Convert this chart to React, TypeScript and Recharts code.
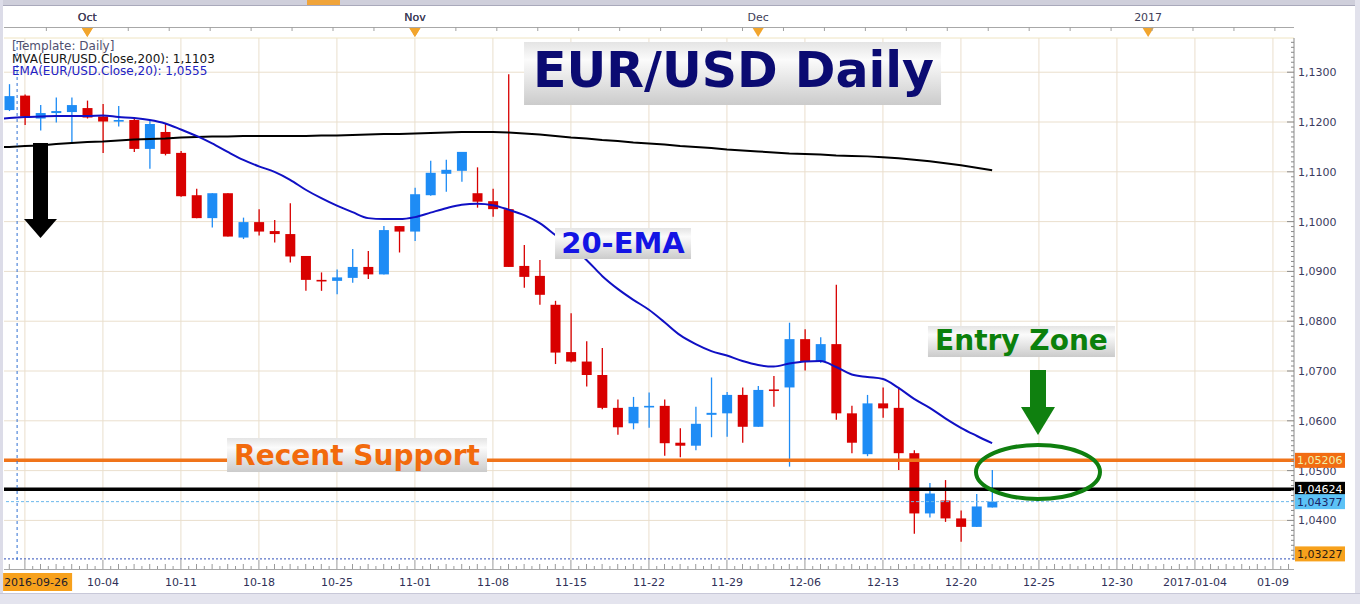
import React from 'react';
import {
  ComposedChart,
  Bar,
  Line,
  XAxis,
  YAxis,
  CartesianGrid,
  ReferenceLine,
  ReferenceDot,
} from 'recharts';

// ---------- DATA ----------
const FIRST_INDEX = -1; // the first row (2016-09-23) lies just left of the visible window

const dates = [
  '2016-09-23',
  '2016-09-26', '2016-09-27', '2016-09-28', '2016-09-29', '2016-09-30',
  '2016-10-03', '2016-10-04', '2016-10-05', '2016-10-06', '2016-10-07',
  '2016-10-10', '2016-10-11', '2016-10-12', '2016-10-13', '2016-10-14',
  '2016-10-17', '2016-10-18', '2016-10-19', '2016-10-20', '2016-10-21',
  '2016-10-24', '2016-10-25', '2016-10-26', '2016-10-27', '2016-10-28',
  '2016-10-31', '2016-11-01', '2016-11-02', '2016-11-03', '2016-11-04',
  '2016-11-07', '2016-11-08', '2016-11-09', '2016-11-10', '2016-11-11',
  '2016-11-14', '2016-11-15', '2016-11-16', '2016-11-17', '2016-11-18',
  '2016-11-21', '2016-11-22', '2016-11-23', '2016-11-24', '2016-11-25',
  '2016-11-28', '2016-11-29', '2016-11-30', '2016-12-01', '2016-12-02',
  '2016-12-05', '2016-12-06', '2016-12-07', '2016-12-08', '2016-12-09',
  '2016-12-12', '2016-12-13', '2016-12-14', '2016-12-15', '2016-12-16',
  '2016-12-19', '2016-12-20', '2016-12-21', '2016-12-22',
];

const opens: (number | null)[] = [null,
  1.1224, 1.1253, 1.1207, 1.1218, 1.1220,
  1.1228, 1.1211, 1.1201, 1.1204, 1.1146,
  1.1180, 1.1138, 1.1053, 1.1007, 1.1057,
  1.0968, 1.0999, 1.0981, 1.0975, 1.0931,
  1.0883, 1.0881, 1.0887, 1.0909, 1.0894,
  1.0991, 1.0980, 1.1053, 1.1096, 1.1102,
  1.1057, 1.1041, 1.1025, 1.0911, 1.0891,
  1.0833, 1.0738, 1.0719, 1.0692, 1.0626,
  1.0595, 1.0627, 1.0630, 1.0556, 1.0550,
  1.0612, 1.0615, 1.0652, 1.0588, 1.0663,
  1.0667, 1.0764, 1.0720, 1.0754, 1.0615,
  1.0533, 1.0635, 1.0626, 1.0535, 1.0414,
  1.0440, 1.0404, 1.0387, 1.0426,
];

const highs: (number | null)[] = [null,
  1.1276, 1.1255, 1.1234, 1.1249, 1.1249,
  1.1243, 1.1236, 1.1232, 1.1209, 1.1204,
  1.1197, 1.1142, 1.1066, 1.1057, 1.1057,
  1.1008, 1.1025, 1.1003, 1.1037, 1.0931,
  1.0898, 1.0904, 1.0945, 1.0941, 1.0991,
  1.0991, 1.1068, 1.1122, 1.1124, 1.1140,
  1.1109, 1.1066, 1.1296, 1.0953, 1.0923,
  1.0841, 1.0816, 1.0760, 1.0746, 1.0643,
  1.0648, 1.0657, 1.0643, 1.0585, 1.0628,
  1.0687, 1.0658, 1.0667, 1.0670, 1.0690,
  1.0797, 1.0784, 1.0768, 1.0873, 1.0630,
  1.0652, 1.0667, 1.0667, 1.0541, 1.0475,
  1.0481, 1.0420, 1.0453, 1.0501,
];

const lows: (number | null)[] = [null,
  1.1222, 1.1194, 1.1183, 1.1199, 1.1156,
  1.1207, 1.1138, 1.1191, 1.1140, 1.1106,
  1.1133, 1.1050, 1.1007, 1.0988, 1.0970,
  1.0965, 1.0972, 1.0958, 1.0918, 1.0861,
  1.0861, 1.0854, 1.0877, 1.0885, 1.0894,
  1.0938, 1.0961, 1.1052, 1.1060, 1.1080,
  1.1028, 1.1010, 1.0909, 1.0867, 1.0833,
  1.0714, 1.0717, 1.0669, 1.0623, 1.0572,
  1.0583, 1.0586, 1.0530, 1.0527, 1.0541,
  1.0567, 1.0568, 1.0556, 1.0588, 1.0628,
  1.0508, 1.0701, 1.0716, 1.0602, 1.0535,
  1.0529, 1.0606, 1.0501, 1.0373, 1.0406,
  1.0397, 1.0357, 1.0387, 1.0426,
];

const closes: (number | null)[] = [null,
  1.1252, 1.1211, 1.1218, 1.1222, 1.1234,
  1.1209, 1.1201, 1.1204, 1.1146, 1.1196,
  1.1136, 1.1051, 1.1007, 1.1057, 1.0970,
  1.0999, 1.0980, 1.0975, 1.0930, 1.0883,
  1.0882, 1.0888, 1.0909, 1.0894, 1.0983,
  1.0980, 1.1055, 1.1098, 1.1104, 1.1140,
  1.1040, 1.1025, 1.0909, 1.0889, 1.0853,
  1.0737, 1.0719, 1.0692, 1.0626, 1.0587,
  1.0628, 1.0630, 1.0555, 1.0550, 1.0594,
  1.0616, 1.0652, 1.0588, 1.0662, 1.0661,
  1.0764, 1.0719, 1.0754, 1.0615, 1.0556,
  1.0635, 1.0625, 1.0535, 1.0414, 1.0454,
  1.0404, 1.0387, 1.0428, 1.04377,
];

const ema20 = [1.1205,
  1.1208, 1.1210, 1.1211, 1.1212, 1.1212,
  1.1212, 1.1213, 1.1210, 1.1208, 1.1204,
  1.1197, 1.1185, 1.1172, 1.1157, 1.1140,
  1.1124, 1.1111, 1.1100, 1.1084, 1.1064,
  1.1047, 1.1032, 1.1019, 1.1007, 1.1005,
  1.1005, 1.1009, 1.1018, 1.1027, 1.1034,
  1.1036, 1.1033, 1.1024, 1.1013, 1.0997,
  1.0973, 1.0949, 1.0923, 1.0891, 1.0865,
  1.0843, 1.0823, 1.0798, 1.0772, 1.0754,
  1.0740, 1.0731, 1.0720, 1.0712, 1.0709,
  1.0715, 1.0719, 1.0720, 1.0708, 1.0693,
  1.0688, 1.0684, 1.0666, 1.0644, 1.0626,
  1.0605, 1.0586, 1.0570, 1.0555,
];

const sma200 = [1.1149,
  1.1150, 1.1152, 1.1153, 1.1156, 1.1158,
  1.1160, 1.1161, 1.1163, 1.1165, 1.1166,
  1.1167, 1.1169, 1.1170, 1.1171, 1.1171,
  1.1172, 1.1172, 1.1172, 1.1172, 1.1172,
  1.1173, 1.1173, 1.1174, 1.1175, 1.1176,
  1.1176, 1.1177, 1.1178, 1.1179, 1.1180,
  1.1180, 1.1180, 1.1179, 1.1177, 1.1175,
  1.1172, 1.1169, 1.1167, 1.1164, 1.1162,
  1.1159, 1.1157, 1.1155, 1.1152, 1.1150,
  1.1148, 1.1145, 1.1143, 1.1141, 1.1139,
  1.1137, 1.1136, 1.1135, 1.1133, 1.1132,
  1.1131, 1.1129, 1.1127, 1.1124, 1.1121,
  1.1117, 1.1113, 1.1108, 1.1103,
];

// horizontal levels
const recentSupport = 1.05206;
const blackLevel = 1.04624;
const lastPrice = 1.04377;
const lowMarker = 1.03227;

// axes
const X_DOMAIN: [number, number] = [-0.34, 82.35];
const Y_DOMAIN: [number, number] = [1.03205, 1.13687];
const priceMajorTicks = [1.04, 1.05, 1.06, 1.07, 1.08, 1.09, 1.10, 1.11, 1.12, 1.13];
const gridDayValues = [1, 6, 11, 16, 21, 26, 31, 36, 41, 46, 51, 56, 61, 66, 71, 76, 81];
const weekTickValues = [6, 11, 16, 21, 26, 31, 36, 41, 46, 51, 56, 61, 66, 71, 76, 81];
const weekTickLabels = ['10-04', '10-11', '10-18', '10-25', '11-01', '11-08', '11-15', '11-22',
  '11-29', '12-06', '12-13', '12-20', '12-25', '12-30', '2017-01-04', '01-09'];
const monthTickValues = [5, 26, 48, 73];
const monthTickLabels = ['Oct', 'Nov', 'Dec', '2017'];
const cursorIndex = 0.5;
const cursorLabel = '2016-09-26';

// ---------- STYLE ----------
const FONT = 'DejaVu Sans, Verdana, sans-serif';
const UP = '#1e8cf5';
const DOWN = '#d80000';
const fmt4 = (v: number) => v.toFixed(4).replace('.', ',');
const fmt5 = (v: number) => v.toFixed(5).replace('.', ',');

// price tags drawn on the right axis (drawn last, on top of the regular labels)
const priceTags = [
  { value: lowMarker, bg: '#f7a11c', fg: '#2a1a10', dy: -5 },
  { value: recentSupport, bg: '#f26c12', fg: '#eef0a8', dy: 0 },
  { value: blackLevel, bg: '#000000', fg: '#ffffff', dy: 0 },
  { value: lastPrice, bg: '#5cc2f6', fg: '#1a2466', dy: 0 },
];

const minorPriceTicks: number[] = [];
for (let k = 1033; k <= 1136; k++) minorPriceTicks.push(k / 1000);
const minorDayTicks: number[] = [];
for (let k = 0; k <= 164; k++) {
  const v = k / 2;
  if (!gridDayValues.includes(v) && v !== cursorIndex) minorDayTicks.push(v);
}
const minorMonthTicks: number[] = [];
for (let k = -1; k <= 29; k++) {
  const v = 5 + k * 2.625;
  if (v > X_DOMAIN[0] && v < X_DOMAIN[1]) minorMonthTicks.push(v);
}

const Candle = (props: any) => {
  const { x, y, width, height, payload } = props;
  if (!payload || payload.open == null || payload.high == null) return null;
  const top = Math.min(y, y + height);
  const bot = Math.max(y, y + height);
  const range = payload.high - payload.low;
  const pix = (v: number) => (range === 0 ? top : top + ((payload.high - v) / range) * (bot - top));
  const color = payload.close >= payload.open ? UP : DOWN;
  const cx = x + width / 2;
  const o = pix(payload.open);
  const c = pix(payload.close);
  const bt = Math.min(o, c);
  const bh = Math.max(Math.abs(o - c), 1.6);
  return (
    <g>
      <line x1={cx} x2={cx} y1={top} y2={bot} stroke={color} strokeWidth={1.3} />
      <rect x={cx - 5} y={bt} width={10} height={bh} fill={color} />
    </g>
  );
};

const PriceTick = (p: any) => {
  const v = p.payload.value;
  const tag = priceTags.find((t) => t.value === v);
  if (tag) {
    const yc = p.y + tag.dy;
    return (
      <g>
        <rect x={p.x + 1} y={yc - 7.5} width={50} height={15} fill={tag.bg} />
        <text x={p.x + 3} y={yc + 4} fontSize={11} fontFamily={FONT} fill={tag.fg}>
          {fmt5(v)}
        </text>
      </g>
    );
  }
  const major = Math.abs(v * 100 - Math.round(v * 100)) < 1e-6;
  return (
    <g>
      <line x1={p.x - (major ? 7 : 3)} x2={p.x} y1={p.y} y2={p.y} stroke="#8a8a8a" />
      {major && (
        <text x={p.x + 4} y={p.y + 4} fontSize={11} fontFamily={FONT} fill="#3a3a5e">
          {fmt4(v)}
        </text>
      )}
    </g>
  );
};

const DayTick = (p: any) => {
  const v = p.payload.value;
  const base = p.y + 9;
  if (v === cursorIndex) {
    const y0 = p.y + 13;
    return (
      <g>
        <rect x={p.x - 14} y={y0} width={69} height={18} fill="#f7a11c" />
        <text x={p.x - 13} y={y0 + 13} fontSize={11} fontFamily={FONT} fill="#1c1c2c">
          {cursorLabel}
        </text>
      </g>
    );
  }
  const idx = weekTickValues.indexOf(v);
  if (idx >= 0) {
    return (
      <g>
        <line x1={p.x} x2={p.x} y1={p.y} y2={base} stroke="#9a9a9a" />
        <text x={p.x} y={p.y + 26} textAnchor="middle" fontSize={11} fontFamily={FONT} fill="#303058">
          {weekTickLabels[idx]}
        </text>
      </g>
    );
  }
  if (gridDayValues.includes(v)) {
    return <line x1={p.x} x2={p.x} y1={p.y} y2={base} stroke="#9a9a9a" />;
  }
  const h = Number.isInteger(v) ? 5 : 3;
  return <line x1={p.x} x2={p.x} y1={base - h} y2={base} stroke="#9a9a9a" />;
};

const MonthTick = (p: any) => {
  const v = p.payload.value;
  const idx = monthTickValues.indexOf(v);
  if (idx >= 0) {
    return (
      <g>
        <text x={p.x} y={p.y - 17} textAnchor="middle" fontSize={11} fontFamily={FONT} fill="#404058">
          {monthTickLabels[idx]}
        </text>
        <polygon
          points={`${p.x - 5.5},${p.y - 10} ${p.x + 5.5},${p.y - 10} ${p.x},${p.y - 1}`}
          fill="#f2a52c"
        />
      </g>
    );
  }
  return <line x1={p.x} x2={p.x} y1={p.y - 11} y2={p.y - 7} stroke="#a0a0a0" />;
};

let gradCount = 0;
const textBox = (text: string, color: string, w: number, h: number, fs: number, baseDy: number, dx = 0) => (p: any) => {
  const id = `boxgrad${gradCount++}`;
  return (
    <g>
      <defs>
        <linearGradient id={id} x1="0" y1="0" x2="0" y2="1">
          <stop offset="0%" stopColor="#e4e4e4" />
          <stop offset="28%" stopColor="#fbfbfb" />
          <stop offset="100%" stopColor="#cbcbcb" />
        </linearGradient>
      </defs>
      <rect x={p.cx - w / 2} y={p.cy - h / 2} width={w} height={h} fill={`url(#${id})`} />
      <text
        x={p.cx + dx}
        y={p.cy + baseDy}
        textAnchor="middle"
        fontSize={fs}
        fontWeight="bold"
        fontFamily={FONT}
        fill={color}
      >
        {text}
      </text>
    </g>
  );
};

const downArrow = (color: string, shaftHalf: number, shaftTop: number, headHalf: number, headH: number) => (p: any) => {
  const { cx, cy } = p;
  return (
    <g>
      <rect x={cx - shaftHalf} y={cy - shaftTop} width={shaftHalf * 2} height={shaftTop - headH + 1} fill={color} />
      <polygon points={`${cx - headHalf},${cy - headH} ${cx + headHalf},${cy - headH} ${cx},${cy}`} fill={color} />
    </g>
  );
};

const ellipseShape = (p: any) => (
  <ellipse cx={p.cx} cy={p.cy} rx={62} ry={27} fill="none" stroke="#0f7f0f" strokeWidth={4} />
);

export default function App() {
  const data = dates.map((d, k) => ({
    i: k + FIRST_INDEX,
    date: d,
    open: opens[k],
    high: highs[k],
    low: lows[k],
    close: closes[k],
    ema: ema20[k],
    sma: sma200[k],
  }));
  const lastSma = sma200[sma200.length - 1];
  const lastEma = ema20[ema20.length - 1];

  return (
    <div
      style={{
        position: 'absolute',
        left: 0,
        top: 0,
        width: 1360,
        height: 604,
        background: '#ffffff',
        overflow: 'hidden',
        fontFamily: FONT,
      }}
    >
      {/* window frame */}
      <div style={{ position: 'absolute', left: 0, top: 0, width: 1360, height: 5, background: '#cfcfdb', borderBottom: '1px solid #a9a9bb' }} />
      <div style={{ position: 'absolute', left: 307, top: 0, width: 33, height: 5, background: '#f0a43a' }} />
      <div style={{ position: 'absolute', left: 0, top: 0, width: 3, height: 604, background: '#dcdce8' }} />
      <div style={{ position: 'absolute', left: 1355, top: 0, width: 5, height: 604, background: '#e2e2ec' }} />
      <div style={{ position: 'absolute', left: 0, top: 593, width: 1360, height: 11, background: '#e4e4ee', borderTop: '1px solid #c8c8d8' }} />
      {/* axis baselines */}
      <div style={{ position: 'absolute', left: 4, top: 27, width: 1290, height: 1, background: '#a8a8a8' }} />
      <div style={{ position: 'absolute', left: 4, top: 569, width: 1290, height: 1, background: '#a8a8a8' }} />

      <div style={{ position: 'absolute', left: 0, top: 0 }}>
        <ComposedChart
          width={1360}
          height={604}
          data={data}
          margin={{ top: 5, right: 0, bottom: 0, left: 4 }}
        >
          <CartesianGrid
            xAxisId="bottom"
            yAxisId="price"
            stroke="#eadfcd"
            horizontalValues={priceMajorTicks}
            verticalValues={gridDayValues}
          />
          <XAxis
            xAxisId="top"
            orientation="top"
            type="number"
            dataKey="i"
            domain={X_DOMAIN}
            allowDataOverflow
            ticks={[...minorMonthTicks, ...monthTickValues].sort((a, b) => a - b)}
            interval={0}
            tickSize={0}
            tickMargin={0}
            tickLine={false}
            axisLine={{ stroke: '#efe4c2' }}
            tick={<MonthTick />}
            height={33}
          />
          <XAxis
            xAxisId="bottom"
            orientation="bottom"
            type="number"
            dataKey="i"
            domain={X_DOMAIN}
            allowDataOverflow
            ticks={[...[...minorDayTicks, ...gridDayValues].sort((a, b) => a - b), cursorIndex]}
            interval={0}
            tickSize={0}
            tickMargin={0}
            tickLine={false}
            axisLine={false}
            tick={<DayTick />}
            height={44}
          />
          <YAxis
            yAxisId="price"
            orientation="right"
            type="number"
            domain={Y_DOMAIN}
            allowDataOverflow
            ticks={[...minorPriceTicks, ...priceTags.map((t) => t.value)]}
            interval={0}
            tickSize={0}
            tickMargin={0}
            tickLine={false}
            axisLine={{ stroke: '#8a8a8a' }}
            tick={<PriceTick />}
            width={66}
          />
          <Bar
            xAxisId="bottom"
            yAxisId="price"
            dataKey={(d: any) => (d.open == null ? null : [d.low, d.high])}
            barSize={10}
            shape={<Candle />}
            isAnimationActive={false}
            zIndex={300}
          />
          <Line
            xAxisId="bottom"
            yAxisId="price"
            type="linear"
            dataKey="sma"
            stroke="#000000"
            strokeWidth={2}
            dot={false}
            activeDot={false}
            isAnimationActive={false}
            zIndex={400}
          />
          <Line
            xAxisId="bottom"
            yAxisId="price"
            type="monotone"
            dataKey="ema"
            stroke="#1010c4"
            strokeWidth={2}
            dot={false}
            activeDot={false}
            isAnimationActive={false}
            zIndex={400}
          />
          <ReferenceLine xAxisId="bottom" yAxisId="price" y={lowMarker}
            stroke="#3050b8" strokeDasharray="2 2" zIndex={1500} />
          <ReferenceLine xAxisId="bottom" yAxisId="price" y={lastPrice}
            stroke="#6cb8ec" strokeDasharray="3 2" zIndex={1500} />
          <ReferenceLine xAxisId="bottom" yAxisId="price" y={blackLevel}
            stroke="#000000" strokeWidth={3.5} zIndex={1500} />
          <ReferenceLine xAxisId="bottom" yAxisId="price" y={recentSupport}
            stroke="#f0741a" strokeWidth={3.5} zIndex={1500} />
          <ReferenceLine xAxisId="bottom" yAxisId="price" x={cursorIndex}
            stroke="#2f6fd2" strokeDasharray="3 3" zIndex={1500} />
          <ReferenceDot xAxisId="bottom" yAxisId="price" x={46.36} y={1.12974} r={1}
            shape={textBox('EUR/USD Daily', '#0b0b72', 417, 63, 49, 13.5, 1)} zIndex={1600} />
          <ReferenceDot xAxisId="bottom" yAxisId="price" x={39.34} y={1.0956} r={1}
            shape={textBox('20-EMA', '#1414e4', 136, 31, 29, 9.8)} zIndex={1600} />
          <ReferenceDot xAxisId="bottom" yAxisId="price" x={22.29} y={1.05313} r={1}
            shape={textBox('Recent Support', '#f26a0c', 260, 34, 28, 10)} zIndex={1600} />
          <ReferenceDot xAxisId="bottom" yAxisId="price" x={64.88} y={1.07592} r={1}
            shape={textBox('Entry Zone', '#0b800b', 187, 31, 28, 8.5)} zIndex={1600} />
          <ReferenceDot xAxisId="bottom" yAxisId="price" x={65.94} y={1.05715} r={1}
            shape={downArrow('#0f800f', 8, 65, 17, 28)} zIndex={1600} />
          <ReferenceDot xAxisId="bottom" yAxisId="price" x={65.94} y={1.04972} r={1}
            shape={ellipseShape} zIndex={1600} />
          <ReferenceDot xAxisId="bottom" yAxisId="price" x={2.0} y={1.09671} r={1}
            shape={downArrow('#000000', 7.5, 95, 16.5, 19)} zIndex={1600} />
        </ComposedChart>
      </div>

      {/* indicator legend */}
      <div
        style={{
          position: 'absolute',
          left: 12,
          top: 40,
          fontSize: 12,
          lineHeight: '12.5px',
          fontFamily: FONT,
          pointerEvents: 'none',
          whiteSpace: 'nowrap',
        }}
      >
        <div style={{ color: '#505070' }}>[Template: Daily]</div>
        <div style={{ color: '#141414' }}>MVA(EUR/USD.Close,200): {fmt4(lastSma)}</div>
        <div style={{ color: '#2222c4' }}>EMA(EUR/USD.Close,20): {fmt4(lastEma)}</div>
      </div>
    </div>
  );
}
